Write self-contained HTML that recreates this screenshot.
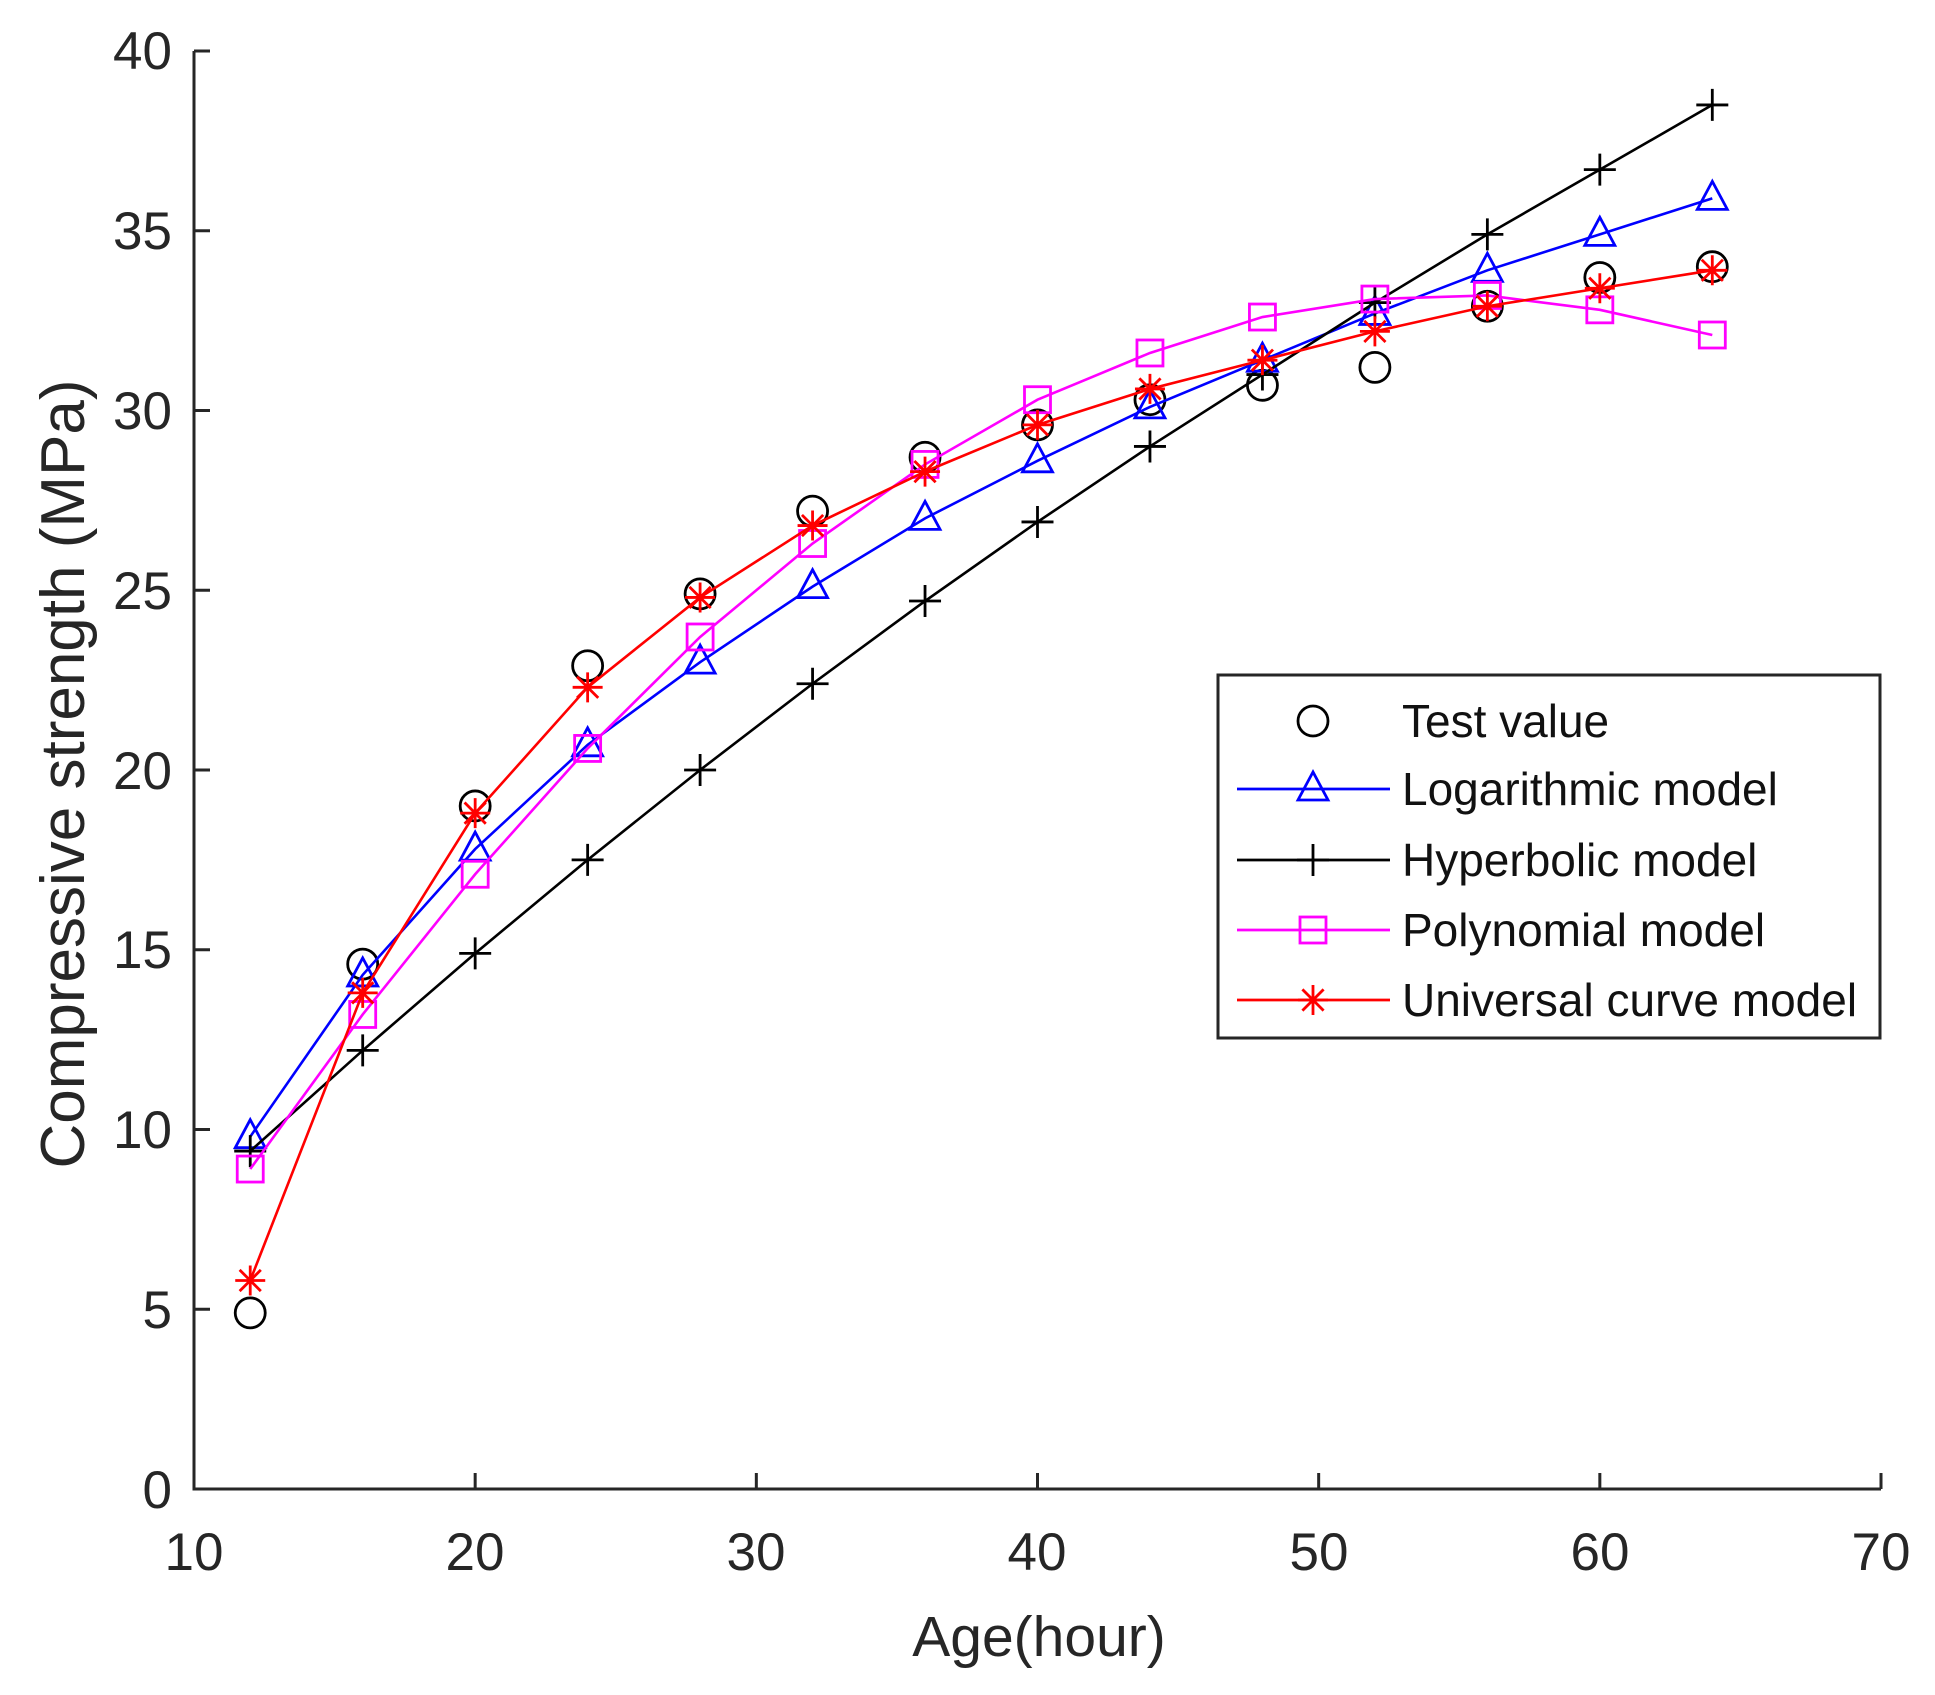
<!DOCTYPE html>
<html><head><meta charset="utf-8"><style>
html,body{margin:0;padding:0;background:#fff;}
svg{display:block;font-family:"Liberation Sans",Arial,sans-serif;}
</style></head><body>
<svg id="s" width="1935" height="1695" viewBox="0 0 1935 1695" xmlns="http://www.w3.org/2000/svg">
<rect width="1935" height="1695" fill="#fff"/>
<g id="axes" stroke="#262626" stroke-width="3" fill="none">
<path d="M194,51 V1489 H1881"/>
</g>
<g font-size="53" fill="#262626" text-anchor="end">
<text x="172" y="1508">0</text>
<text x="172" y="1328">5</text>
<text x="172" y="1148">10</text>
<text x="172" y="968">15</text>
<text x="172" y="789">20</text>
<text x="172" y="609">25</text>
<text x="172" y="429">30</text>
<text x="172" y="249">35</text>
<text x="172" y="69">40</text>
</g>
<g font-size="53" fill="#262626" text-anchor="middle">
<text x="194" y="1570">10</text>
<text x="475" y="1570">20</text>
<text x="756" y="1570">30</text>
<text x="1037" y="1570">40</text>
<text x="1319" y="1570">50</text>
<text x="1600" y="1570">60</text>
<text x="1881" y="1570">70</text>
</g>
<text x="1039" y="1656" font-size="57" fill="#262626" text-anchor="middle">Age(hour)</text>
<text transform="translate(84,774) rotate(-90)" font-size="62" fill="#262626" text-anchor="middle">Compressive strength (MPa)</text>
<g id="plot"></g>
<rect x="1218" y="675" width="662" height="363" fill="#fff" stroke="#262626" stroke-width="3"/>
<g id="leg"></g>
<g font-size="46" fill="#111">
<text x="1402" y="737">Test value</text>
<text x="1402" y="805">Logarithmic model</text>
<text x="1402" y="876">Hyperbolic model</text>
<text x="1402" y="946">Polynomial model</text>
<text x="1402" y="1016">Universal curve model</text>
</g>
</svg>
<script>
var NS="http://www.w3.org/2000/svg";
function X(v){return 194+(v-10)*(1687/60);}
function Y(v){return 1489-v*(1438/40);}
var xs=[12,16,20,24,28,32,36,40,44,48,52,56,60,64];
var S=[
{c:"#000",m:"o",line:false,d:[4.9,14.6,19.0,22.9,24.9,27.2,28.7,29.6,30.3,30.7,31.2,32.9,33.7,34.0]},
{c:"#0000ff",m:"^",line:true,d:[9.8,14.3,17.8,20.7,23.0,25.1,27.0,28.6,30.1,31.4,32.7,33.9,34.9,35.9]},
{c:"#000",m:"+",line:true,d:[9.4,12.2,14.9,17.5,20.0,22.4,24.7,26.9,29.0,31.0,33.0,34.9,36.7,38.5]},
{c:"#ff00ff",m:"s",line:true,d:[8.9,13.2,17.1,20.6,23.7,26.3,28.5,30.3,31.6,32.6,33.1,33.2,32.8,32.1]},
{c:"#ff0000",m:"*",line:true,d:[5.8,13.8,18.8,22.3,24.8,26.8,28.3,29.6,30.6,31.4,32.2,32.9,33.4,33.9]}
];
function el(t,a,p){var e=document.createElementNS(NS,t);for(var k in a)e.setAttribute(k,a[k]);p.appendChild(e);return e;}
function marker(m,x,y,c,p){
 var st={fill:"none",stroke:c,"stroke-width":2.8};
 if(m=="o"){st.cx=x;st.cy=y;st.r=15;el("circle",st,p);}
 else if(m=="^"){st.points=(x)+","+(y-17)+" "+(x-15)+","+(y+11)+" "+(x+15)+","+(y+11);el("polygon",st,p);}
 else if(m=="s"){st.x=x-13;st.y=y-13;st.width=26;st.height=26;el("rect",st,p);}
 else if(m=="+"){st.d="M"+(x-16)+","+y+"H"+(x+16)+"M"+x+","+(y-16)+"V"+(y+16);el("path",st,p);}
 else if(m=="*"){var r=15,d="";for(var i=0;i<4;i++){var a=i*Math.PI/4;d+="M"+(x-r*Math.sin(a))+","+(y-r*Math.cos(a))+"L"+(x+r*Math.sin(a))+","+(y+r*Math.cos(a));}
  st.d=d;el("path",st,p);}
}
var P=document.getElementById("plot");
S.forEach(function(s){
 var g=el("g",{},P);
 if(s.line){var pts=xs.map(function(v,i){return X(v)+","+Y(s.d[i]);}).join(" ");
  el("polyline",{points:pts,fill:"none",stroke:s.c,"stroke-width":2.6},g);}
 xs.forEach(function(v,i){marker(s.m,X(v),Y(s.d[i]),s.c,g);});
});
var L=document.getElementById("leg");
var ly=[721,789,860,930,1000];
S.forEach(function(s,i){
 if(s.line)el("line",{x1:1237,x2:1390,y1:ly[i],y2:ly[i],stroke:s.c,"stroke-width":2.8},L);
 marker(s.m,1313,ly[i],s.c,L);
});
var A=document.getElementById("axes");
var t="";
for(var v=0;v<=40;v+=5){t+="M194,"+Y(v)+"h16";}
for(var v=10;v<=70;v+=10){t+="M"+X(v)+",1489v-16";}
el("path",{d:t},A);
</script>
</body></html>
